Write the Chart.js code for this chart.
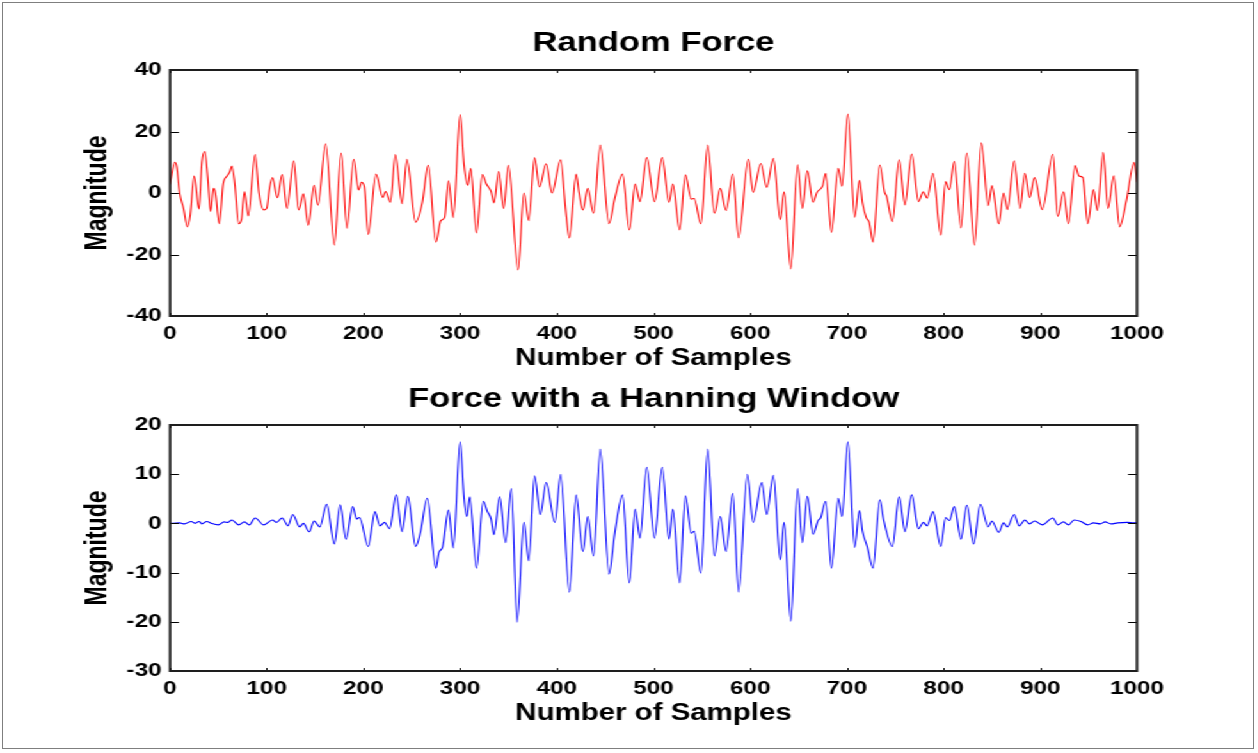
<!DOCTYPE html>
<html>
<head>
<meta charset="utf-8">
<script src="https://cdn.jsdelivr.net/npm/chart.js@4.4.0/dist/chart.umd.min.js"></script>
<style>
  html, body { margin: 0; padding: 0; background: #fff; }
  body { width: 1258px; height: 753px; position: relative; overflow: hidden; }
  #frame { position: absolute; left: 2px; top: 2px; width: 1252px; height: 747px; border: 1px solid #7f7f7f; box-sizing: border-box; }
  /* the reference figure is stretched sideways, so draw narrow and stretch */
  #stretch { position: absolute; left: 0; top: 0; width: 983px; height: 753px; transform: scaleX(1.28); transform-origin: 0 0; }
  #c1 { position: absolute; left: 0; top: 0; }
  #c2 { position: absolute; left: 0; top: 372px; }
</style>
</head>
<body>
<div id="frame"></div>
<div id="stretch">
  <canvas id="c1" width="983" height="372"></canvas>
  <canvas id="c2" width="983" height="381"></canvas>
</div>
<script>
// tick values
const xTicks = [0, 100, 200, 300, 400, 500, 600, 700, 800, 900, 1000];
const yTicksTop = [-40, -20, 0, 20, 40];
const yTicksBottom = [-30, -20, -10, 0, 10, 20];

// Random Force: sample index and magnitude (read at peaks, troughs and shoulders)
const sampleTop = [0, 5, 7, 10, 14, 18, 21, 25, 30, 33, 36, 39, 42, 45, 47, 51, 55, 59, 62, 64,
  67, 71, 74, 77, 81, 88, 92, 97, 100, 103, 106, 111, 116, 121, 128, 133, 138, 143, 149, 153,
  161, 170, 177, 183, 190, 195, 198, 201, 205, 213, 220, 223, 228, 233, 240, 245, 254, 261, 267, 275,
  280, 284, 288, 293, 300, 304, 308, 311, 317, 323, 327, 332, 335, 340, 345, 350, 360, 366, 371, 377,
  382, 389, 395, 404, 409, 413, 420, 423, 427, 432, 438, 445, 454, 460, 468, 475, 481, 486, 493, 501,
  509, 516, 520, 527, 533, 539, 542, 549, 556, 563, 569, 575, 582, 588, 598, 603, 611, 617, 624, 631,
  635, 642, 649, 654, 659, 665, 669, 675, 678, 684, 691, 695, 701, 708, 713, 716, 720, 723, 727, 734,
  739, 741, 747, 754, 760, 767, 774, 779, 783, 789, 797, 802, 806, 811, 818, 824, 832, 839, 846, 850,
  857, 862, 866, 873, 879, 884, 889, 894, 902, 913, 918, 924, 929, 936, 940, 944, 949, 955, 959, 965,
  970, 976, 982, 989, 997, 1000];
const forceTop = [2.8, 10, 8.5, 0, -5, -11, -7, 5.5, -5.2, 10, 13.5, 5, -6, 1.5, 0, -10, 3, 5.5, 7, 8.8,
  3, -10, -8.5, 0.5, -7.5, 12.5, 0, -5.5, -5, 1.7, 5, -1.5, 6, -5, 10.5, -5.5, -0.3, -10.5, 2.5, -4,
  16, -17, 13, -11.5, 11, 1, 3.5, 2, -13.5, 6.2, -1.5, 0.5, -3, 12.5, -3.5, 11, -9.5, -3, 9, -16,
  -9, -8, 4, -8, 25.5, 9.3, 2.5, 8, -13, 6, 3, 0.5, -3.2, 7, -5, 9, -25, 0, -9, 11.5,
  2, 9.5, 0, 10.8, -5, -14.6, 6.2, 0.2, -5.5, 1.5, -6.6, 15.6, -10, -1.7, 6.2, -12, 2.9, -2.8, 11.5, -2.8,
  11.5, -3, 2.9, -12, 5.9, -2, -1.8, -10, 15.6, -6.6, 1.5, -5.7, 6.2, -14.6, 11, 0.2, 9.6, 1.8, 11.3, -8.7,
  0.4, -24.7, 9.2, -5, 7.2, -3, 0.2, 2.4, 6.4, -12.8, 8, 2.2, 25.7, -7.9, 4.1, -3, -8, -9.5, -16, 9.1,
  0.2, -1, -9.3, 10.8, -3.9, 12.7, -2.8, 0.4, -1.7, 6.4, -13.7, 3.7, 1.1, 10.3, -11.4, 13, -17, 16.3, -4.1, 2.4,
  -10, 0, -5.4, 10.5, -5, 6.4, -1.5, 5, -5.4, 12.6, -7.6, 0.4, -10, 8.9, 5.5, 5, -10, 1.1, -5.7, 13.2,
  -5, 5.6, -11, -2.5, 10, 3.5];

// Force with a Hanning Window
const sampleBottom = [0, 10, 15, 22, 26, 30, 33, 38, 43, 50, 56, 60, 64, 71, 77, 82, 88, 97, 106, 110,
  116, 122, 127, 134, 138, 144, 149, 155, 162, 170, 176, 182, 189, 193, 196, 205, 212, 217, 222, 227,
  234, 240, 246, 254, 259, 266, 275, 278, 282, 288, 293, 300, 304, 307, 310, 317, 324, 328, 332, 335,
  341, 347, 353, 359, 366, 371, 377, 383, 389, 398, 404, 413, 420, 427, 432, 438, 445, 454, 460, 468,
  475, 481, 486, 493, 501, 509, 516, 520, 527, 533, 539, 542, 549, 556, 563, 569, 575, 582, 588, 597,
  603, 612, 617, 624, 631, 635, 642, 649, 654, 659, 665, 670, 673, 678, 684, 691, 695, 701, 708, 713,
  716, 721, 727, 734, 738, 747, 754, 760, 767, 774, 779, 783, 789, 797, 802, 806, 811, 818, 824, 831,
  838, 846, 850, 857, 862, 866, 873, 878, 884, 889, 894, 902, 913, 918, 924, 929, 935, 942, 949, 955,
  962, 967, 973, 980, 990, 996, 1000];
const forceBottom = [0, 0.1, -0.1, 0.4, 0, 0.4, -0.1, 0.4, 0, -0.3, 0.3, 0.2, 0.7, -0.3, 0.3, -0.3, 1.1, -0.3, 0.7, 0.2,
  1.1, -0.5, 1.8, -0.7, 0, -1.7, 0.5, -0.7, 3.9, -4.2, 3.8, -3.2, 3.4, 0.9, 1.2, -4.7, 2.4, -0.5, 0.2, -1.1,
  5.8, -1.7, 5.5, -4.7, -1.8, 5.1, -9.1, -6, -4.7, 2.7, -5, 16.6, 5.3, 1.4, 5.4, -9.1, 4.5, 2.5, 0.9, -2.3,
  5.4, -3.9, 7.1, -20.1, 0.2, -7.6, 9.7, 1.8, 8.3, 0.2, 10, -14, 5.8, -5.7, 1.4, -6.6, 15.1, -10.3, -1.9, 5.8,
  -12.1, 2.9, -3, 11.4, -3, 11.4, -3.2, 2.9, -12.1, 5.6, -2, -1.6, -10.1, 15.1, -6.6, 1.4, -5.7, 6.1, -14, 10,
  0.2, 8.3, 1.8, 9.8, -7.4, 0.2, -19.9, 7.1, -3.9, 5.5, -2.2, 0.5, 1.2, 4.5, -9.1, 5.1, 1.4, 16.6, -4.9, 2.6,
  -1.5, -4.7, -9.1, 4.8, 0.7, -4.7, 5.4, -1.7, 5.8, -1.1, 0.2, -0.5, 2.4, -4.7, 1.2, 0.6, 3.4, -3.2, 3.7, -4.2,
  3.9, -0.7, 0.5, -1.8, 0.1, -0.7, 1.8, -0.5, 0.7, -0.1, 0.5, -0.3, 1.1, -0.3, 0.3, -0.3, 0.7, 0.4, -0.3, 0.1,
  -0.1, 0.3, -0.1, 0.1, 0.2, 0.1, 0.1];

Chart.defaults.font.family = '"Liberation Sans", Arial, sans-serif';
Chart.defaults.color = '#000';

// MATLAB-like box with inward tick marks on all four sides
const boxTicks = {
  id: 'boxTicks',
  afterDatasetsDraw(chart) {
    const { ctx, chartArea: a, scales: { x, y } } = chart;
    ctx.save();
    ctx.strokeStyle = '#000';
    ctx.lineWidth = 1;
    ctx.beginPath();
    x.ticks.forEach(t => {
      const px = Math.round(x.getPixelForValue(t.value)) + 0.5;
      ctx.moveTo(px, a.bottom); ctx.lineTo(px, a.bottom - 3);
      ctx.moveTo(px, a.top); ctx.lineTo(px, a.top + 3);
    });
    y.ticks.forEach(t => {
      const py = Math.round(y.getPixelForValue(t.value)) + 0.5;
      ctx.moveTo(a.left, py); ctx.lineTo(a.left + 7, py);
      ctx.moveTo(a.right, py); ctx.lineTo(a.right - 7, py);
    });
    ctx.stroke();
    ctx.lineWidth = 2;
    ctx.strokeStyle = '#1e1e1e';
    ctx.strokeRect(a.left, a.top, a.right - a.left, a.bottom - a.top);
    ctx.restore();
  }
};

function makeChart(id, opt) {
  return new Chart(document.getElementById(id), {
    type: 'line',
    data: {
      datasets: [{
        data: opt.samples.map((s, i) => ({ x: s, y: opt.values[i] })),
        borderColor: opt.color,
        borderWidth: 1.1,
        pointRadius: 0,
        cubicInterpolationMode: 'monotone',
        fill: false
      }]
    },
    options: {
      responsive: false,
      animation: false,
      layout: { padding: { left: 0, right: 94.7, top: 0, bottom: opt.padBottom } },
      plugins: { legend: { display: false }, tooltip: { enabled: false } },
      scales: {
        x: {
          type: 'linear', position: 'bottom', min: 0, max: 1000,
          afterBuildTicks: s => { s.ticks = xTicks.map(v => ({ value: v })); },
          grid: { display: false, drawTicks: false }, border: { display: false },
          ticks: { padding: 6, autoSkip: false, maxRotation: 0, font: { size: 19, weight: 'bold' }, callback: v => String(v) },
          title: { display: true, text: 'Number of Samples', padding: 0, font: { size: 23, weight: 'bold' } },
          afterFit: s => { s.height = 56; }
        },
        t: {
          axis: 'x', type: 'linear', position: 'top', min: 0, max: 1000,
          ticks: { display: false }, grid: { display: false, drawTicks: false }, border: { display: false },
          title: { display: true, text: opt.title, padding: { top: opt.titlePad, bottom: 0 }, font: { size: 27, weight: 'bold' } },
          afterFit: s => { s.height = opt.topH; }
        },
        y: {
          type: 'linear', min: opt.yTicks[0], max: opt.yTicks[opt.yTicks.length - 1],
          afterBuildTicks: s => { s.ticks = opt.yTicks.map(v => ({ value: v })); },
          grid: { display: false, drawTicks: false }, border: { display: false },
          ticks: { padding: 6.5, font: { size: 19, weight: 'bold' }, callback: v => String(v) },
          title: { display: true, text: 'Magnitude', padding: { top: 62.8, bottom: 0 }, font: { size: 23, weight: 'bold' } },
          afterFit: s => { s.width = 132.8; }
        }
      }
    },
    plugins: [boxTicks]
  });
}

makeChart('c1', {
  samples: sampleTop, values: forceTop, color: '#ff0000', yTicks: yTicksTop,
  title: 'Random Force', titlePad: 27.5, topH: 70, padBottom: 0
});
makeChart('c2', {
  samples: sampleBottom, values: forceBottom, color: '#0000ff', yTicks: yTicksBottom,
  title: 'Force with a Hanning Window', titlePad: 11, topH: 53, padBottom: 26
});
</script>
</body>
</html>
